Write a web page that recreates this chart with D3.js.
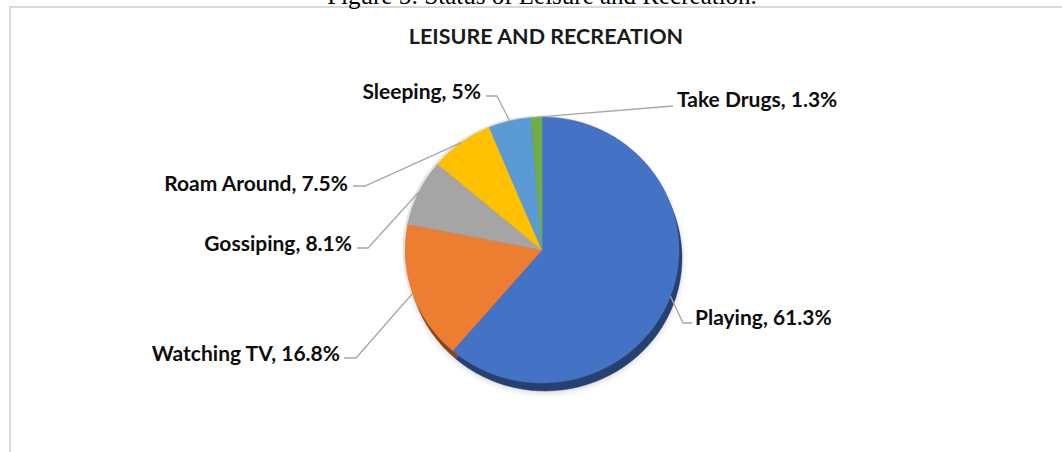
<!DOCTYPE html>
<html>
<head>
<meta charset="utf-8">
<script src="https://cdn.jsdelivr.net/npm/d3@7"></script>
<style>
  html, body { margin: 0; padding: 0; background: #fff; }
  svg { display: block; }
</style>
</head>
<body>
<svg id="chart" width="1062" height="452"></svg>
<script>
// ---- data ----
const categories = ["Playing", "Watching TV", "Gossiping", "Roam Around", "Sleeping", "Take Drugs"];
const values = [61.3, 16.8, 8.1, 7.5, 5, 1.3];
const colors = ["#4472C4", "#ED7D31", "#A5A5A5", "#FFC000", "#5B9BD5", "#70AD47"];
const title = "LEISURE AND RECREATION";
const caption = "Figure 5: Status of Leisure and Recreation.";

// ---- label layout (text position, anchor, leader elbow) ----
const labelLayout = {
  "Playing":     { x: 695, y: 318, anchor: "start", elbow: [[683, 323], [692, 323]] },
  "Watching TV": { x: 340, y: 354, anchor: "end",   elbow: [[356, 358], [344, 358]] },
  "Gossiping":   { x: 352, y: 244, anchor: "end",   elbow: [[368, 248], [357, 248]] },
  "Roam Around": { x: 348, y: 184, anchor: "end",   elbow: [[365, 186], [353, 186]] },
  "Sleeping":    { x: 481, y: 92,  anchor: "end",   elbow: [[497, 96], [486, 96]] },
  "Take Drugs":  { x: 677, y: 100, anchor: "start", elbow: [[673, 106]] }
};

const W = 1062, H = 452;
const svg = d3.select("#chart");

// frame
svg.append("rect").attr("x", 10).attr("y", 7).attr("width", W + 20).attr("height", H + 20)
  .attr("fill", "none").attr("stroke", "#D9D9D9").attr("stroke-width", 2);

// caption (cut off at top, as in the reference)
svg.append("text").attr("x", 542).attr("y", 4).attr("text-anchor", "middle")
  .attr("font-family", "'Liberation Serif', 'Times New Roman', serif").attr("font-size", 25)
  .attr("fill", "#000").text(caption);

// title
svg.append("text").attr("x", 546).attr("y", 44).attr("text-anchor", "middle")
  .attr("font-family", "Lato, 'Open Sans', sans-serif").attr("font-weight", "bold")
  .attr("font-size", 21.5).attr("fill", "#1a1a1a").text(title);

// pie
const cx = 542, cy = 250, rx = 137, ry = 133;
const data = categories.map((c, i) => ({ name: c, value: values[i], color: colors[i] }));
const pie = d3.pie().sort(null).value(d => d.value);
const arcs = pie(data);
const arc = d3.arc().innerRadius(0).outerRadius(rx);

const defs = svg.append("defs");
const blur = defs.append("filter").attr("id", "shadow").attr("x", "-20%").attr("y", "-20%").attr("width", "140%").attr("height", "140%");
blur.append("feGaussianBlur").attr("stdDeviation", 3);

// soft shadow
svg.append("g").attr("transform", `translate(${cx + 3},${cy + 10}) scale(1,${ry / rx})`)
  .append("circle").attr("r", rx + 1).attr("fill", "#000").attr("opacity", 0.12).attr("filter", "url(#shadow)");

// light bevel on the upper-left edge
svg.append("g").attr("transform", `translate(${cx - 2},${cy - 1}) scale(1,${ry / rx})`)
  .append("circle").attr("r", rx + 0.5).attr("fill", "#E6E6E6");

// rim (3D edge)
svg.append("g").attr("transform", `translate(${cx + 3},${cy + 8}) scale(1,${ry / rx})`)
  .selectAll("path").data(arcs).join("path")
  .attr("d", arc)
  .attr("fill", d => d3.color(d.data.color).darker(1.6))
  .attr("stroke", d => d3.color(d.data.color).darker(1.6)).attr("stroke-width", 0.5);

// face
svg.append("g").attr("transform", `translate(${cx},${cy}) scale(1,${ry / rx})`)
  .selectAll("path").data(arcs).join("path")
  .attr("d", arc)
  .attr("fill", d => d.data.color)
  .attr("stroke", d => d.data.color).attr("stroke-width", 0.5);

// leader lines
const edge = a => {
  const m = (a.startAngle + a.endAngle) / 2;
  return [cx + rx * Math.sin(m), cy - ry * Math.cos(m)];
};
const line = d3.line();
svg.append("g").selectAll("path").data(arcs).join("path")
  .attr("d", d => line([edge(d), ...labelLayout[d.data.name].elbow]))
  .attr("fill", "none").attr("stroke", "#A6A6A6").attr("stroke-width", 1.3);

// labels
svg.append("g").selectAll("text").data(arcs).join("text")
  .attr("x", d => labelLayout[d.data.name].x)
  .attr("y", d => labelLayout[d.data.name].y)
  .attr("dy", "0.35em")
  .attr("text-anchor", d => labelLayout[d.data.name].anchor)
  .attr("font-family", "Lato, 'Open Sans', sans-serif").attr("font-weight", "bold")
  .attr("font-size", 21).attr("fill", "#0d0d0d")
  .text(d => `${d.data.name}, ${d.data.value}%`);
</script>
</body>
</html>
